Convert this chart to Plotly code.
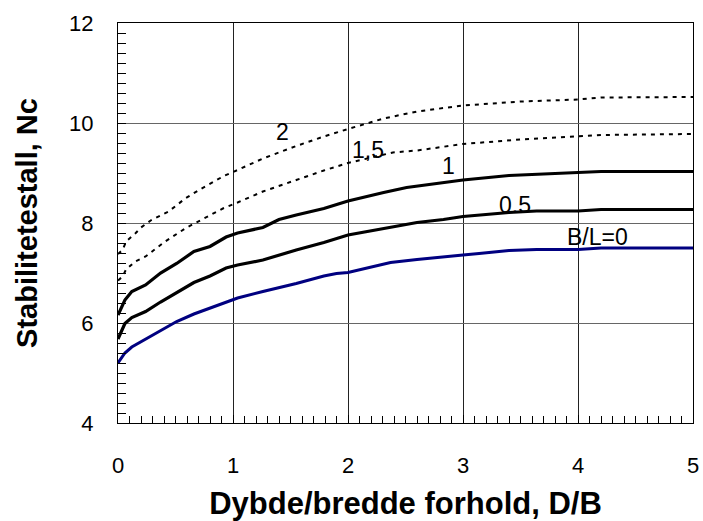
import plotly.graph_objects as go

# B/L = 0 (blue)
x0 = [0, 0.06, 0.12, 0.24, 0.37, 0.51, 0.66, 0.8, 0.94, 1.04, 1.26, 1.55, 1.79, 1.9, 2.0, 2.09, 2.37, 2.6, 2.83, 3.0, 3.14, 3.4, 3.64, 4.0, 4.2, 5.0]
y0 = [5.2, 5.4, 5.52, 5.68, 5.84, 6.03, 6.18, 6.3, 6.43, 6.5, 6.63, 6.79, 6.94, 6.99, 7.01, 7.06, 7.21, 7.27, 7.33, 7.36, 7.39, 7.45, 7.47, 7.47, 7.5, 7.5]

# B/L = 0.5
x05 = [0, 0.06, 0.12, 0.24, 0.37, 0.51, 0.66, 0.8, 0.94, 1.04, 1.26, 1.55, 1.79, 2.0, 2.31, 2.6, 2.83, 3.0, 3.4, 3.64, 4.0, 4.2, 5.0]
y05 = [5.68, 5.99, 6.11, 6.23, 6.42, 6.6, 6.81, 6.94, 7.1, 7.16, 7.26, 7.46, 7.61, 7.76, 7.89, 8.01, 8.07, 8.13, 8.21, 8.24, 8.24, 8.27, 8.27]

# B/L = 1
x1 = [0, 0.06, 0.12, 0.24, 0.37, 0.51, 0.66, 0.8, 0.94, 1.04, 1.26, 1.4, 1.55, 1.79, 2.0, 2.15, 2.31, 2.51, 2.75, 3.0, 3.4, 3.64, 4.0, 4.2, 5.0]
y1 = [6.16, 6.46, 6.63, 6.76, 7.0, 7.19, 7.43, 7.53, 7.72, 7.8, 7.91, 8.07, 8.16, 8.29, 8.44, 8.53, 8.61, 8.71, 8.78, 8.86, 8.95, 8.98, 9.01, 9.03, 9.03]

# B/L = 1.5 (dashed)
x15 = [0, 0.04, 0.07, 0.15, 0.24, 0.31, 0.41, 0.59, 0.72, 0.92, 1.04, 1.26, 1.55, 1.79, 2.0, 2.39, 2.6, 2.83, 3.0, 3.5, 4.0, 4.2, 5.0]
y15 = [6.85, 6.93, 7.07, 7.23, 7.33, 7.46, 7.63, 7.9, 8.06, 8.3, 8.41, 8.63, 8.86, 9.05, 9.2, 9.41, 9.45, 9.53, 9.58, 9.67, 9.74, 9.76, 9.78]

# B/L = 2 (dashed)
x2 = [0, 0.04, 0.07, 0.15, 0.2, 0.29, 0.44, 0.59, 0.72, 0.92, 1.04, 1.26, 1.55, 1.79, 2.0, 2.31, 2.6, 3.0, 3.5, 4.0, 4.2, 5.0]
y2 = [7.38, 7.46, 7.63, 7.79, 7.91, 8.06, 8.23, 8.5, 8.68, 8.94, 9.06, 9.29, 9.54, 9.73, 9.88, 10.09, 10.23, 10.35, 10.43, 10.47, 10.51, 10.52]

curve_labels = ["2", "1,5", "1", "0.5", "B/L=0"]
label_x = [1.43, 2.17, 2.87, 3.45, 4.17]
label_y = [9.82, 9.46, 9.14, 8.36, 7.72]

x_range = [0, 5]
y_range = [4, 12]

fig = go.Figure()
dash_style = "4px,5px"
fig.add_trace(go.Scatter(x=x2, y=y2, mode="lines", line=dict(color="black", width=2, dash=dash_style)))
fig.add_trace(go.Scatter(x=x15, y=y15, mode="lines", line=dict(color="black", width=2, dash=dash_style)))
fig.add_trace(go.Scatter(x=x1, y=y1, mode="lines", line=dict(color="black", width=3.2)))
fig.add_trace(go.Scatter(x=x05, y=y05, mode="lines", line=dict(color="black", width=3.2)))
fig.add_trace(go.Scatter(x=x0, y=y0, mode="lines", line=dict(color="#000080", width=3)))

for t, lx, ly in zip(curve_labels, label_x, label_y):
    fig.add_annotation(x=lx, y=ly, text=t, showarrow=False,
                       font=dict(family="Liberation Sans, Arial", size=23, color="black"))

fig.update_layout(
    width=703, height=521,
    margin=dict(l=118, r=10, t=23, b=98, autoexpand=False),
    paper_bgcolor="white", plot_bgcolor="white",
    showlegend=False,
    font=dict(family="Liberation Sans, Arial", color="black"),
)
fig.update_xaxes(
    range=x_range, tickmode="linear", tick0=0, dtick=1,
    showgrid=True, gridcolor="#222222", gridwidth=1,
    showline=True, linecolor="black", linewidth=1, mirror=True,
    ticks="inside", ticklen=8, tickcolor="black",
    minor=dict(tick0=0, dtick=0.1, ticks="inside", ticklen=7, tickcolor="black", showgrid=False),
    tickfont=dict(size=22), ticklabelstandoff=23,
    title=dict(text="<b>Dybde/bredde forhold, D/B</b>", font=dict(size=31), standoff=16),
    zeroline=False, automargin=False,
)
fig.update_yaxes(
    range=y_range, tickmode="linear", tick0=4, dtick=2,
    showgrid=True, gridcolor="#666666", gridwidth=1,
    showline=True, linecolor="black", linewidth=1, mirror=True,
    ticks="inside", ticklen=8, tickcolor="black",
    minor=dict(tick0=4, dtick=0.2, ticks="inside", ticklen=8, tickcolor="black", showgrid=False),
    tickfont=dict(size=22), ticklabelstandoff=19,
    title=dict(text="<b>Stabilitetestall, Nc</b>", font=dict(size=29), standoff=22),
    zeroline=False, automargin=False,
)

fig.write_html("out.html")
